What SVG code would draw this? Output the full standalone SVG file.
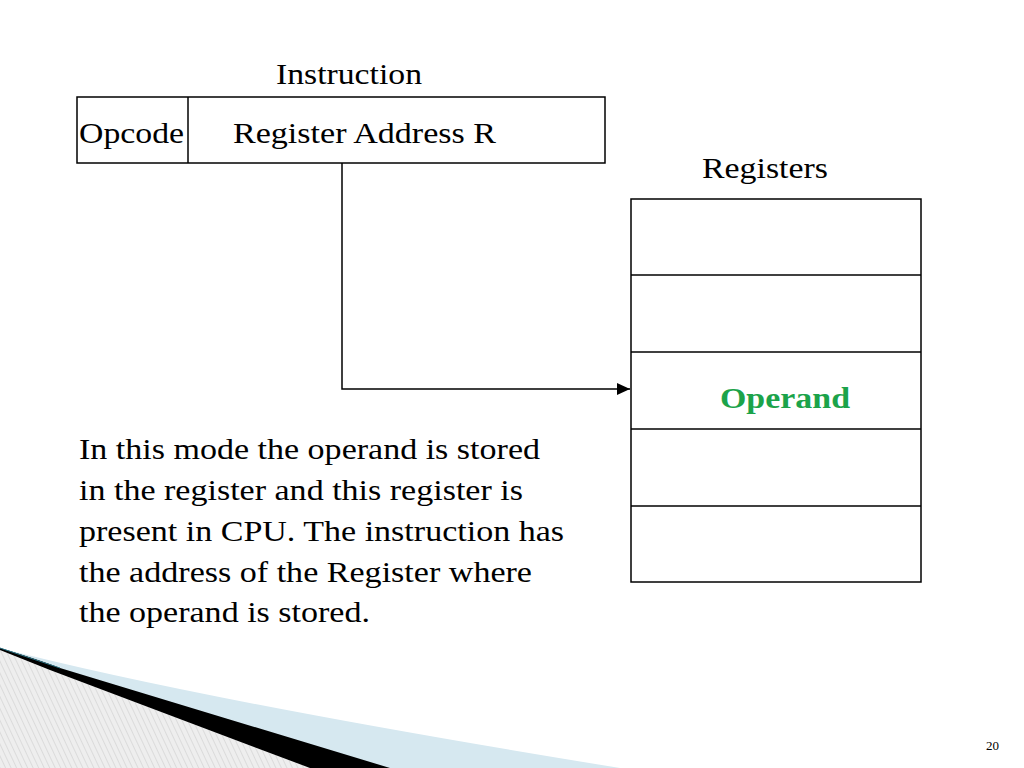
<svg xmlns="http://www.w3.org/2000/svg" width="1024" height="768" viewBox="0 0 1024 768">
<defs>
<style>
text{font-family:"Liberation Serif",serif;fill:#000}
.b{fill:none;stroke:#000;stroke-width:1.5}
</style>
<pattern id="h" width="5" height="5" patternUnits="userSpaceOnUse" patternTransform="rotate(-25)">
<rect width="5" height="5" fill="#eeeeee"/><line x1="0" y1="0" x2="0" y2="5" stroke="#c8c8c8" stroke-width="1"/>
</pattern>
<marker id="a" markerWidth="14" markerHeight="14" refX="13" refY="6" orient="auto" markerUnits="userSpaceOnUse"><path d="M0,0 L13,6 L0,12 Z" fill="#000"/></marker>
</defs>
<rect width="1024" height="768" fill="#fff"/>
<g id="decor">
<path d="M0,648 Q200,700 620,768 L0,768 Z" fill="#d6e8f0"/>
<path d="M0,648 Q40,660 60,668 L390,768 L0,768 Z" fill="#000"/>
<path d="M0,650 Q30,662 50,670 L310,768 L0,768 Z" fill="url(#h)"/>
<path d="M0,648 Q30,658 60,668" fill="none" stroke="#2a6f80" stroke-width="1"/>
</g>
<text x="276" y="84" font-size="30" textLength="146" lengthAdjust="spacingAndGlyphs">Instruction</text>
<g id="instruction">
<rect class="b" x="77" y="97" width="528" height="66"/>
<line class="b" x1="188" y1="97" x2="188" y2="163"/>
<text x="79" y="143" font-size="30" textLength="105" lengthAdjust="spacingAndGlyphs">Opcode</text>
<text x="233" y="143" font-size="30" textLength="263" lengthAdjust="spacingAndGlyphs">Register Address R</text>
</g>
<text x="702" y="178" font-size="30" textLength="126" lengthAdjust="spacingAndGlyphs">Registers</text>
<g id="registers">
<rect class="b" x="631" y="199" width="290" height="383"/>
<line class="b" x1="631" y1="275" x2="921" y2="275"/>
<line class="b" x1="631" y1="352" x2="921" y2="352"/>
<line class="b" x1="631" y1="429" x2="921" y2="429"/>
<line class="b" x1="631" y1="506" x2="921" y2="506"/>
<text x="720" y="408" font-size="30" font-weight="bold" textLength="130" lengthAdjust="spacingAndGlyphs" style="fill:#1ba34a">Operand</text>
</g>
<g id="connectors">
<path class="b" d="M342,163 V389 H630" marker-end="url(#a)"/>
</g>
<g id="desc" font-size="30">
<text x="79" y="459" textLength="461" lengthAdjust="spacingAndGlyphs">In this mode the operand is stored</text>
<text x="79" y="500" textLength="444" lengthAdjust="spacingAndGlyphs">in the register and this register is</text>
<text x="79" y="541" textLength="485" lengthAdjust="spacingAndGlyphs">present in CPU. The instruction has</text>
<text x="79" y="582" textLength="453" lengthAdjust="spacingAndGlyphs">the address of the Register where</text>
<text x="79" y="622" textLength="291" lengthAdjust="spacingAndGlyphs">the operand is stored.</text>
</g>
<text x="999" y="750" font-size="13" text-anchor="end">20</text>
</svg>
